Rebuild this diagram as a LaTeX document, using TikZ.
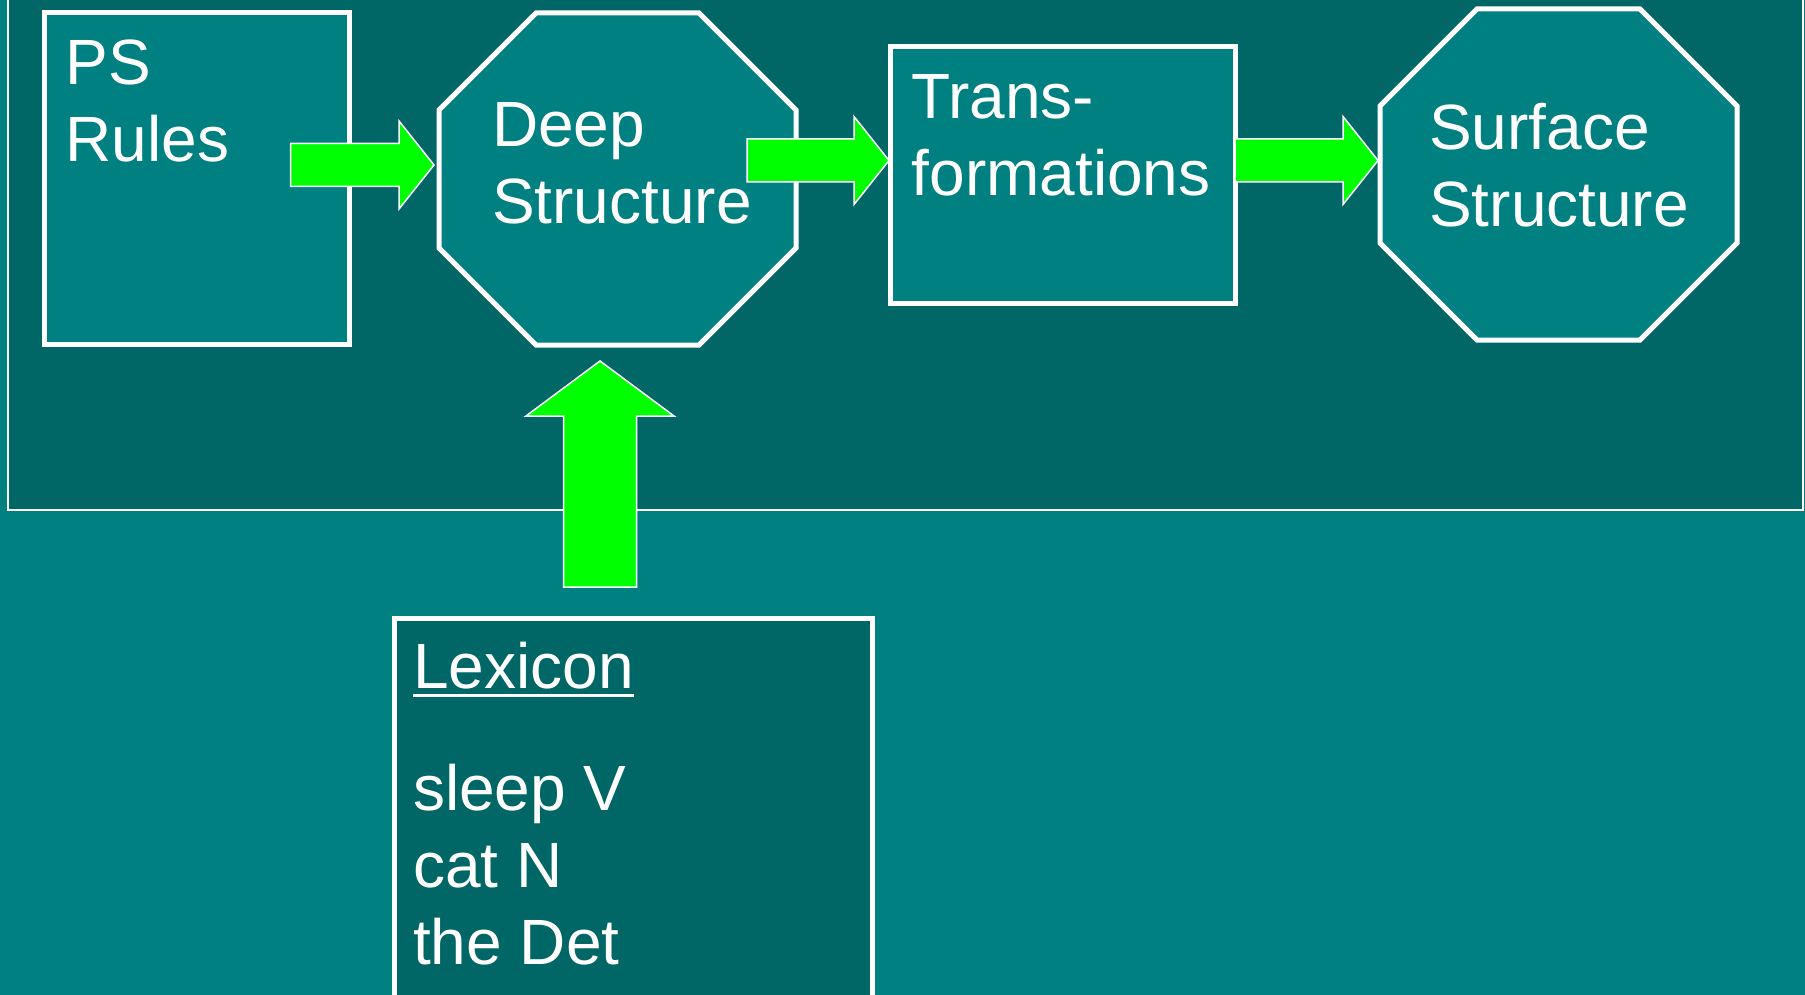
\documentclass[tikz,border=0pt]{standalone}
\usepackage{fontspec}
\setmainfont{Liberation Sans}
\usetikzlibrary{calc}
\definecolor{panelteal}{HTML}{006666}
\definecolor{boxteal}{HTML}{008080}
\definecolor{arrowgreen}{HTML}{00FF00}
\newsavebox\ulbox
\newcommand\ulword[1]{\sbox\ulbox{#1}\rlap{\rule[-8.75pt]{\wd\ulbox}{3.5pt}}\usebox\ulbox}
% fat green arrow pointing right, from #1 to tip #2
\newcommand\fatright[2]{%
  \draw[fatarrow] ($(#1)+(0,-21.5)$) -- ($(#2)+(-35,-21.5)$) -- ($(#2)+(-35,-44)$)
    -- (#2) -- ($(#2)+(-35,44)$) -- ($(#2)+(-35,21.5)$) -- ($(#1)+(0,21.5)$) -- cycle;}
% octagon drawn on the corners of node #1
\newcommand\octpath[1]{%
  \filldraw[octline] ($(#1.north west)+(97,0)$) -- ($(#1.north east)+(-97,0)$)
    -- ($(#1.north east)+(0,97)$) -- ($(#1.south east)+(0,-97)$)
    -- ($(#1.south east)+(-97,0)$) -- ($(#1.south west)+(97,0)$)
    -- ($(#1.south west)+(0,-97)$) -- ($(#1.north west)+(0,97)$) -- cycle;}
\begin{document}
\begin{tikzpicture}[x=1pt,y=-1pt,
    boxstage/.style={rectangle,draw=white,line width=5pt,fill=boxteal,inner sep=0pt,outer sep=0pt},
    octstage/.style={rectangle,inner sep=0pt,outer sep=0pt},
    octline/.style={draw=white,line width=5pt,fill=boxteal},
    stagetext/.style={anchor=north west,inner sep=0pt,align=left,text=white,
      font=\fontsize{64}{77}\selectfont},
    fatarrow/.style={fill=arrowgreen,draw=white,line width=1.5pt}]
  \clip (0,0) rectangle (1805,995);
  \fill[boxteal] (0,0) rectangle (1805,995);
  % upper panel
  \filldraw[fill=panelteal,draw=white,line width=2pt] (8,-10) rectangle (1803,510);

  \node[boxstage,minimum width=305pt,minimum height=331pt] (ps) at (196.5,178.5) {};
  \node[octstage,minimum width=357pt,minimum height=332pt] (deep) at (617.5,179) {};
  \node[boxstage,minimum width=345pt,minimum height=256pt] (trans) at (1062.5,175) {};
  \node[octstage,minimum width=357pt,minimum height=331pt] (surface) at (1558.5,174.5) {};
  \node[boxstage,fill=panelteal,minimum width=478pt,minimum height=402pt] (lexicon) at (633,819) {};
  \octpath{deep}
  \octpath{surface}

  \node[stagetext] (pslabel) at (65.5,40) {PS\\Rules};
  \node[stagetext] (deeplabel) at (492,102) {Deep\\Structure};
  \node[stagetext] (translabel) at (911.5,74) {Trans-\\formations};
  \node[stagetext] (surflabel) at (1429,103) {Surface\\Structure};
  \node[stagetext] (lexlabel) at (413,642) {\ulword{Lexicon}\\[45pt]sleep V\\cat N\\the Det};

  % arrow ends
  \coordinate (psout) at ($(ps.east)+(-58.5,-13.5)$);
  \coordinate (deepin) at ($(deep.west)+(-5,-14)$);
  \coordinate (deepout) at ($(deep.east)+(-49,-18.5)$);
  \coordinate (transin) at ($(trans.west)+(-1,-14.5)$);
  \coordinate (transout) at ($(trans.east)+(0,-14.5)$);
  \coordinate (surfin) at ($(surface.west)+(-2,-14)$);
  \coordinate (lexout) at ($(lexicon.north)+(-33,-31)$);
  \coordinate (deepbelow) at ($(deep.south)+(-17.5,16)$);

  \fatright{psout}{deepin}
  \fatright{deepout}{transin}
  \fatright{transout}{surfin}
  \draw[fatarrow] ($(lexout)+(-36.5,0)$) -- ($(deepbelow)+(-36.5,55)$) -- ($(deepbelow)+(-74,55)$)
    -- (deepbelow) -- ($(deepbelow)+(74,55)$) -- ($(deepbelow)+(36.5,55)$) -- ($(lexout)+(36.5,0)$) -- cycle;
\end{tikzpicture}
\end{document}
